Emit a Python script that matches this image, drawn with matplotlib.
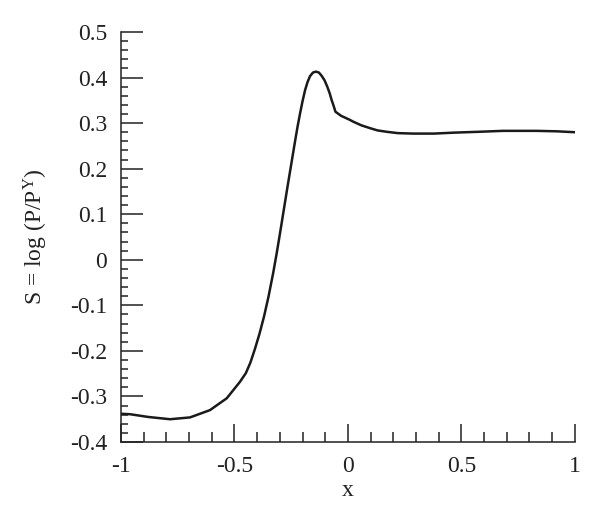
import numpy as np
import matplotlib
matplotlib.use("Agg")
import matplotlib.pyplot as plt
from matplotlib.ticker import MultipleLocator

plt.rcParams['font.family'] = ['Liberation Serif', 'DejaVu Serif']
plt.rcParams['mathtext.default'] = 'regular'
plt.rcParams['axes.unicode_minus'] = False

# curve
x_vals = [-1.0, -0.96, -0.88, -0.784, -0.696, -0.608, -0.534, -0.476, -0.45, -0.43,
          -0.41, -0.39, -0.37, -0.35, -0.329, -0.314, -0.300, -0.288, -0.278, -0.266,
          -0.256, -0.245, -0.233, -0.222, -0.211, -0.200, -0.189, -0.178, -0.167,
          -0.154, -0.141, -0.128, -0.116, -0.103, -0.091, -0.080, -0.072, -0.063,
          -0.055, -0.03, 0.009, 0.024, 0.06, 0.097, 0.13, 0.17, 0.22, 0.288, 0.38,
          0.464, 0.58, 0.684, 0.831, 0.92, 1.0]
s_vals = [-0.338, -0.339, -0.345, -0.350, -0.346, -0.330, -0.304, -0.268, -0.249, -0.226,
          -0.196, -0.163, -0.125, -0.081, -0.028, 0.014, 0.056, 0.093, 0.124, 0.161,
          0.191, 0.224, 0.260, 0.292, 0.321, 0.348, 0.372, 0.390, 0.403,
          0.411, 0.413, 0.411, 0.404, 0.394, 0.380, 0.365, 0.351, 0.338,
          0.325, 0.316, 0.307, 0.303, 0.295, 0.289, 0.284, 0.281, 0.278, 0.277, 0.277,
          0.279, 0.281, 0.283, 0.283, 0.282, 0.280]

x_ticks = [-1, -0.5, 0, 0.5, 1]
x_ticklabels = ['-1', '-0.5', '0', '0.5', '1']
y_ticks = [-0.4, -0.3, -0.2, -0.1, 0, 0.1, 0.2, 0.3, 0.4, 0.5]
y_ticklabels = ['-0.4', '-0.3', '-0.2', '-0.1', '0', '0.1', '0.2', '0.3', '0.4', '0.5']

fig = plt.figure(figsize=(6, 5.21), dpi=100)
ax = fig.add_axes([0.2017, 0.1516, 0.7563, 0.787])

ax.plot(x_vals, s_vals, color='#1a1a1a', linewidth=1.8,
        solid_capstyle='round', solid_joinstyle='round')

ax.set_xlim(-1, 1)
ax.set_ylim(-0.4, 0.5)
ax.spines['top'].set_visible(False)
ax.spines['right'].set_visible(False)
for sp in ('left', 'bottom'):
    ax.spines[sp].set_linewidth(1.1)
    ax.spines[sp].set_color('#222222')

ax.set_xticks(x_ticks)
ax.set_xticklabels(x_ticklabels)
ax.set_yticks(y_ticks)
ax.set_yticklabels(y_ticklabels)
ax.xaxis.set_minor_locator(MultipleLocator(0.1))
ax.yaxis.set_minor_locator(MultipleLocator(0.02))

ax.tick_params(axis='x', which='major', direction='in', length=13, width=1.1,
               pad=10, labelsize=17, colors='#222222')
ax.tick_params(axis='x', which='minor', direction='in', length=7.5, width=1.1,
               colors='#222222')
ax.tick_params(axis='y', which='major', direction='in', length=16, width=1.1,
               pad=10, labelsize=17, colors='#222222')
ax.tick_params(axis='y', which='minor', direction='in', length=5, width=1.1,
               colors='#222222')

ax.set_xlabel('x', fontsize=17, labelpad=2, color='#222222')
ax.set_ylabel('S = log (P/P$^{Y}$)', fontsize=17, labelpad=14, color='#222222')

fig.savefig('out.png', dpi=100)
